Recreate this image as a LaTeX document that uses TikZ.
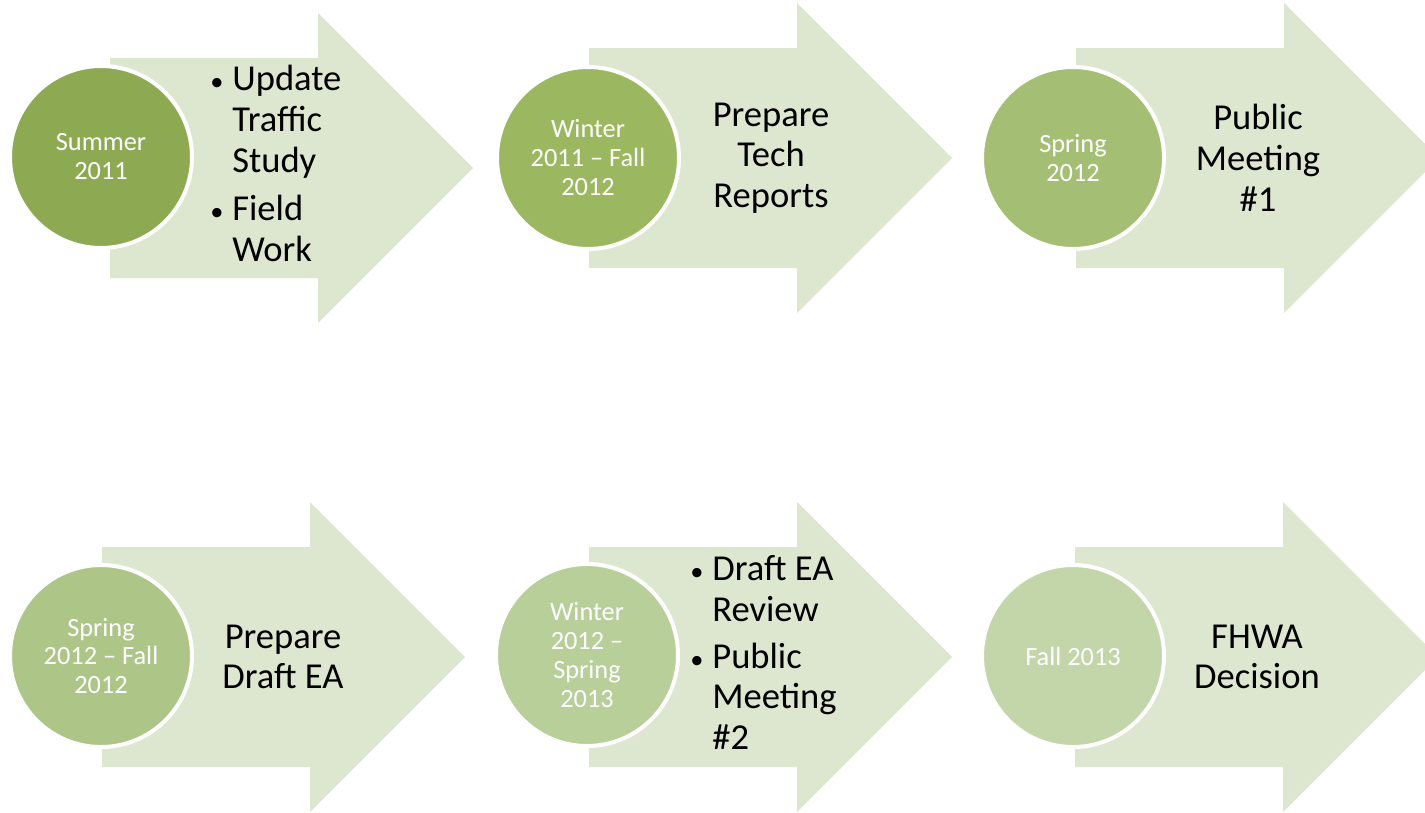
\documentclass[tikz,border=0pt]{standalone}
\usepackage{fontspec}
\setmainfont{Carlito}
\usepackage{tikz}

\definecolor{arrowfill}{RGB}{221,231,208}
\definecolor{dateA}{RGB}{141,170,82}
\definecolor{dateB}{RGB}{155,184,96}
\definecolor{dateC}{RGB}{164,191,116}
\definecolor{dateD}{RGB}{173,198,136}
\definecolor{dateE}{RGB}{184,207,154}
\definecolor{dateF}{RGB}{195,214,170}

\newcommand{\taskbullet}{{\fontsize{15}{0}\selectfont\textbullet}}

\tikzset{
  phasearrow/.style={fill=arrowfill, draw=none},
  datedot/.style={circle, minimum size=182*0.02cm, inner sep=0pt, draw=white, line width=4*0.02cm},
  datetext/.style={text=white, align=center, font=\fontsize{15}{16.5}\selectfont},
  tasktext/.style={text=black, align=center, font=\fontsize{20.8}{23.2}\selectfont}
}

\begin{document}
\begin{tikzpicture}[x=0.02cm, y=-0.02cm]
\useasboundingbox (0,0) rectangle (1425,812);

% top row
\begin{scope}[shift={(110,168)}]
\draw[phasearrow] (0,-110) -- (208,-110) -- (208,-155) -- (363,0) -- (208,155) -- (208,110) -- (0,110) -- cycle;
\end{scope}
\begin{scope}[shift={(589,158)}]
\draw[phasearrow] (0,-110) -- (208,-110) -- (208,-155) -- (363,0) -- (208,155) -- (208,110) -- (0,110) -- cycle;
\end{scope}
\begin{scope}[shift={(1076,158)}]
\draw[phasearrow] (0,-110) -- (208,-110) -- (208,-155) -- (363,0) -- (208,155) -- (208,110) -- (0,110) -- cycle;
\end{scope}

% bottom row
\begin{scope}[shift={(102,657)}]
\draw[phasearrow] (0,-110) -- (208,-110) -- (208,-155) -- (363,0) -- (208,155) -- (208,110) -- (0,110) -- cycle;
\end{scope}
\begin{scope}[shift={(589,657)}]
\draw[phasearrow] (0,-110) -- (208,-110) -- (208,-155) -- (363,0) -- (208,155) -- (208,110) -- (0,110) -- cycle;
\end{scope}
\begin{scope}[shift={(1075,657)}]
\draw[phasearrow] (0,-110) -- (208,-110) -- (208,-155) -- (363,0) -- (208,155) -- (208,110) -- (0,110) -- cycle;
\end{scope}

% date circles
\node[datedot, fill=dateA] (summer) at (101,157) {};
\node[datedot, fill=dateB] (winter) at (588,158) {};
\node[datedot, fill=dateC] (spring) at (1073,158) {};
\node[datedot, fill=dateD] (springfall) at (101,656) {};
\node[datedot, fill=dateE] (winterspring) at (587,655) {};
\node[datedot, fill=dateF] (fall) at (1073,656) {};

\node[datetext] (summertext) at (summer) {Summer\\2011};
\node[datetext] (wintertext) at (winter) {Winter\\2011 -- Fall\\2012};
\node[datetext] (springtext) at (spring) {Spring\\2012};
\node[datetext] (springfalltext) at (springfall) {Spring\\2012 -- Fall\\2012};
\node[datetext] (winterspringtext) at (winterspring) {Winter\\2012 --\\Spring\\2013};
\node[datetext] (falltext) at (fall) {Fall 2013};

% tasks
\node[tasktext, anchor=west, inner sep=0pt] (traffic) at (210,168) {%
  \begin{tabular}{@{}p{0.44cm}@{}l@{}}
  \taskbullet & Update\\ & Traffic\\ & Study\\[4.5pt]
  \taskbullet & Field\\ & Work
  \end{tabular}};
\node[tasktext] (reports) at (771,158) {Prepare\\Tech\\Reports};
\node[tasktext] (meeting) at (1258,158) {Public\\Meeting\\\#1};
\node[tasktext] (draft) at (283,657) {Prepare\\Draft EA};
\node[tasktext, anchor=west, inner sep=0pt] (review) at (690,657) {%
  \begin{tabular}{@{}p{0.44cm}@{}l@{}}
  \taskbullet & Draft EA\\ & Review\\[3.4pt]
  \taskbullet & Public\\ & Meeting\\ & \#2
  \end{tabular}};
\node[tasktext] (decision) at (1257,657) {FHWA\\Decision};

\end{tikzpicture}
\end{document}
